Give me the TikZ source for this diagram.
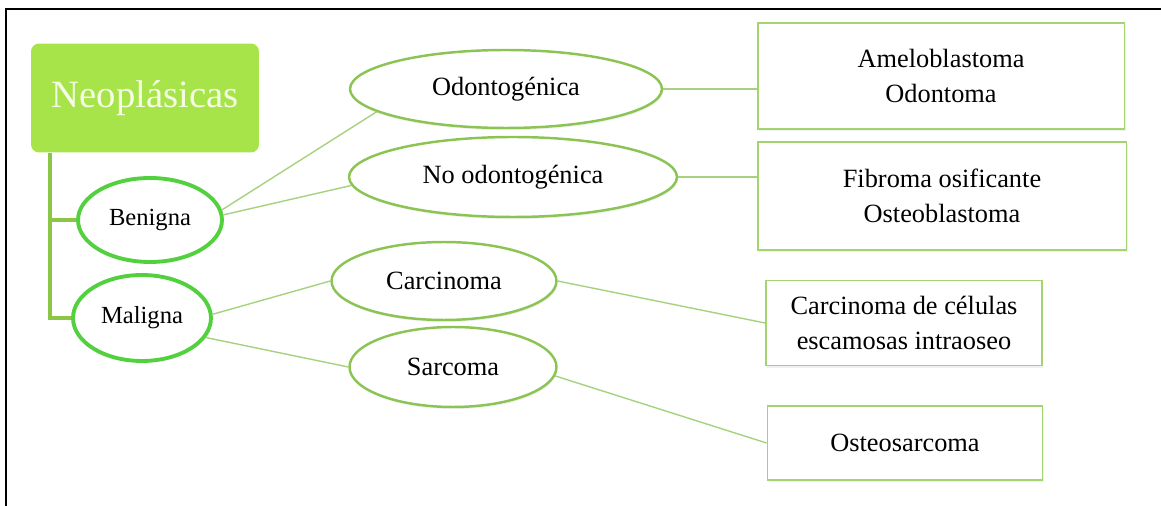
\documentclass[tikz,border=0pt]{standalone}
\usepackage{fontspec}
\setmainfont{Liberation Serif}
\usepackage{tikz}
\usetikzlibrary{shapes.geometric,shadows}

\definecolor{limefill}{RGB}{166,228,74}
\definecolor{limetext}{RGB}{246,252,228}
\definecolor{trunkgreen}{RGB}{140,198,70}
\definecolor{brightgreen}{RGB}{82,208,62}
\definecolor{olivegreen}{RGB}{140,196,84}
\definecolor{boxgreen}{RGB}{164,212,112}
\definecolor{linkgreen}{RGB}{166,210,128}

\begin{document}
\begin{tikzpicture}[x=0.02cm, y=-0.02cm,
    root/.style={fill=limefill, rounded corners=0.16cm, minimum width=4.56cm, minimum height=2.18cm, text=limetext, font=\fontsize{22}{26}\selectfont},
    kind/.style={ellipse, draw=brightgreen, line width=2.2pt, fill=white, inner sep=0pt, font=\fontsize{14}{17}\selectfont},
    sub/.style={ellipse, draw=olivegreen, line width=1.4pt, fill=white, inner sep=0pt, font=\fontsize{15}{18}\selectfont,
        drop shadow={opacity=0.12, shadow xshift=0.6pt, shadow yshift=-1.2pt}},
    leaf/.style={draw=boxgreen, line width=1.1pt, fill=white, align=center, font=\fontsize{15}{20}\selectfont,
        drop shadow={opacity=0.12, shadow xshift=0.6pt, shadow yshift=-1.2pt}},
    trunk/.style={draw=trunkgreen, line width=2.3pt},
    link/.style={draw=linkgreen, line width=0.8pt},
    frame/.style={draw=black, line width=1.7pt}
]
    \useasboundingbox (0,0) rectangle (1161,506);
    \draw[frame] (6,506) -- (6,9) -- (1161,9);

    \node[root] (neo) at (145,98) {Neoplásicas};
    \node[kind, minimum width=2.88cm, minimum height=1.68cm] (ben) at (150,220) {Benigna};
    \node[kind, minimum width=2.76cm, minimum height=1.72cm] (mal) at (142,318) {Maligna};

    \node[sub, minimum width=6.24cm, minimum height=1.56cm] (odo) at (506,89) {Odontogénica};
    \node[sub, minimum width=6.56cm, minimum height=1.60cm] (nod) at (513,177) {No odontogénica};
    \node[sub, minimum width=4.50cm, minimum height=1.56cm] (car) at (444,281) {Carcinoma};
    \node[sub, minimum width=4.14cm, minimum height=1.60cm] (sar) at (453,367) {Sarcoma};

    \node[leaf, minimum width=7.34cm, minimum height=2.12cm] (ame) at (941,76) {Ameloblastoma\\Odontoma};
    \node[leaf, minimum width=7.38cm, minimum height=2.16cm] (fib) at (942,196) {Fibroma osificante\\Osteoblastoma};
    \node[leaf, minimum width=5.52cm, minimum height=1.70cm] (cel) at (904,323) {Carcinoma de células\\escamosas intraoseo};
    \node[leaf, minimum width=5.50cm, minimum height=1.48cm] (ost) at (905,443) {Osteosarcoma};

    % tree from the root box
    \draw[trunk] (neo.south west) ++(19,0) |- (mal.west);
    \draw[trunk] (neo.south west) ++(19,0) |- (ben.west);

    \draw[link] (ben.8) -- (odo.190);
    \draw[link] (ben.4) -- (nod.183);
    \draw[link] (mal.3) -- (car.west);
    \draw[link] (mal.-17) -- (sar.west);
    \draw[link] (odo.east) -- (odo.east -| ame.west);
    \draw[link] (nod.east) -- (nod.east -| fib.west);
    \draw[link] (car.east) -- (cel.west);
    \draw[link] (sar.-5) -- (ost.west);
\end{tikzpicture}
\end{document}
